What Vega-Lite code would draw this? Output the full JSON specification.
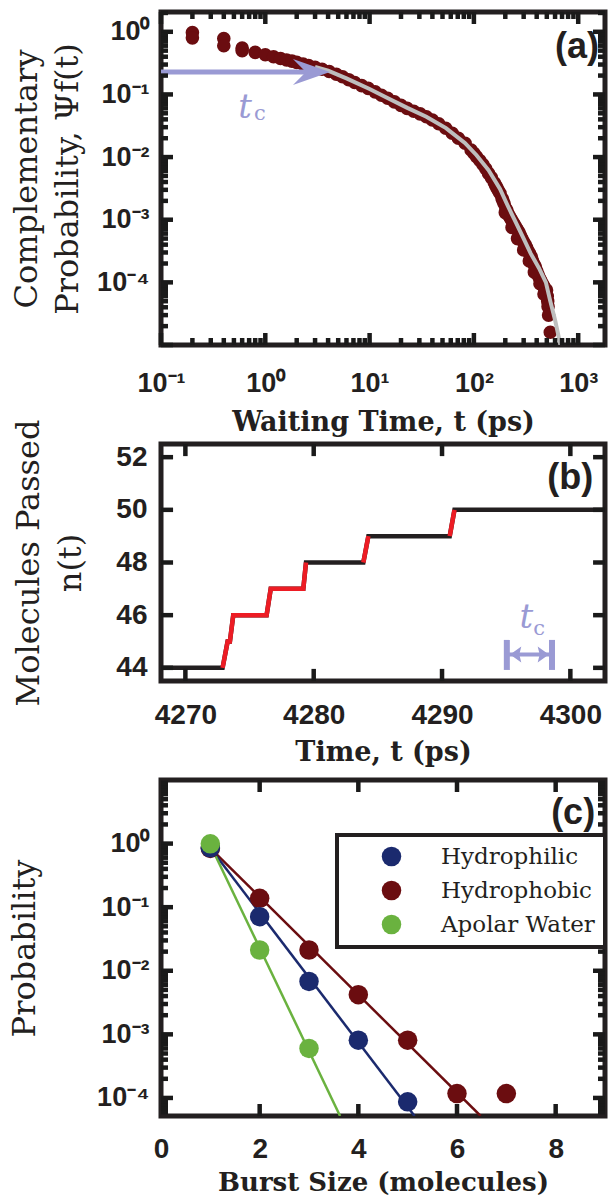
{
  "$schema": "https://vega.github.io/schema/vega-lite/v6.json",
  "background": "white",
  "autosize": {"type": "none"},
  "padding": {"left": 161, "top": 12, "right": 447, "bottom": 1187},
  "spacing": 99,
  "bounds": "flush",
  "config": {
    "view": {"stroke": "#231f20", "strokeWidth": 5},
    "axis": {"grid": false, "domain": false, "labelFont": "Liberation Sans", "labelFontWeight": "bold", "labelColor": "#231f20", "titleFont": "DejaVu Serif", "titleColor": "#231f20", "labelFlush": false, "labelOverlap": false, "labelBound": false},
    "legend": {"strokeWidth": 4},
    "rule": {"color": "#1a1a1a", "strokeWidth": 4.5}
  },
  "datasets": {
    "ticksAX": [{"v":0.1,"major":true},{"v":0.2,"major":false},{"v":0.3,"major":false},{"v":0.4,"major":false},{"v":0.5,"major":false},{"v":0.6,"major":false},{"v":0.7,"major":false},{"v":0.8,"major":false},{"v":0.9,"major":false},{"v":1,"major":true},{"v":2,"major":false},{"v":3,"major":false},{"v":4,"major":false},{"v":5,"major":false},{"v":6,"major":false},{"v":7,"major":false},{"v":8,"major":false},{"v":9,"major":false},{"v":10,"major":true},{"v":20,"major":false},{"v":30,"major":false},{"v":40,"major":false},{"v":50,"major":false},{"v":60,"major":false},{"v":70,"major":false},{"v":80,"major":false},{"v":90,"major":false},{"v":100,"major":true},{"v":200,"major":false},{"v":300,"major":false},{"v":400,"major":false},{"v":500,"major":false},{"v":600,"major":false},{"v":700,"major":false},{"v":800,"major":false},{"v":900,"major":false},{"v":1000,"major":true}],
    "ticksAY": [{"v":0.00001,"major":true},{"v":0.00002,"major":false},{"v":0.00003,"major":false},{"v":0.00004,"major":false},{"v":0.00005,"major":false},{"v":0.00006,"major":false},{"v":0.00007,"major":false},{"v":0.00008,"major":false},{"v":0.00009,"major":false},{"v":0.0001,"major":true},{"v":0.0002,"major":false},{"v":0.0003,"major":false},{"v":0.0004,"major":false},{"v":0.0005,"major":false},{"v":0.0006,"major":false},{"v":0.0007,"major":false},{"v":0.0008,"major":false},{"v":0.0009,"major":false},{"v":0.001,"major":true},{"v":0.002,"major":false},{"v":0.003,"major":false},{"v":0.004,"major":false},{"v":0.005,"major":false},{"v":0.006,"major":false},{"v":0.007,"major":false},{"v":0.008,"major":false},{"v":0.009,"major":false},{"v":0.01,"major":true},{"v":0.02,"major":false},{"v":0.03,"major":false},{"v":0.04,"major":false},{"v":0.05,"major":false},{"v":0.06,"major":false},{"v":0.07,"major":false},{"v":0.08,"major":false},{"v":0.09,"major":false},{"v":0.1,"major":true},{"v":0.2,"major":false},{"v":0.3,"major":false},{"v":0.4,"major":false},{"v":0.5,"major":false},{"v":0.6,"major":false},{"v":0.7,"major":false},{"v":0.8,"major":false},{"v":0.9,"major":false},{"v":1,"major":true},{"v":2,"major":false}],
    "ticksBX": [{"v":4270},{"v":4280},{"v":4290},{"v":4300}],
    "ticksBY": [{"v":44},{"v":46},{"v":48},{"v":50},{"v":52}],
    "ticksCX": [{"v":2},{"v":4},{"v":6},{"v":8}],
    "ticksCY": [{"v":0.00006,"major":false},{"v":0.00007,"major":false},{"v":0.00008,"major":false},{"v":0.00009,"major":false},{"v":0.0001,"major":true},{"v":0.0002,"major":false},{"v":0.0003,"major":false},{"v":0.0004,"major":false},{"v":0.0005,"major":false},{"v":0.0006,"major":false},{"v":0.0007,"major":false},{"v":0.0008,"major":false},{"v":0.0009,"major":false},{"v":0.001,"major":true},{"v":0.002,"major":false},{"v":0.003,"major":false},{"v":0.004,"major":false},{"v":0.005,"major":false},{"v":0.006,"major":false},{"v":0.007,"major":false},{"v":0.008,"major":false},{"v":0.009,"major":false},{"v":0.01,"major":true},{"v":0.02,"major":false},{"v":0.03,"major":false},{"v":0.04,"major":false},{"v":0.05,"major":false},{"v":0.06,"major":false},{"v":0.07,"major":false},{"v":0.08,"major":false},{"v":0.09,"major":false},{"v":0.1,"major":true},{"v":0.2,"major":false},{"v":0.3,"major":false},{"v":0.4,"major":false},{"v":0.5,"major":false},{"v":0.6,"major":false},{"v":0.7,"major":false},{"v":0.8,"major":false},{"v":0.9,"major":false},{"v":1,"major":true},{"v":2,"major":false},{"v":3,"major":false},{"v":4,"major":false},{"v":5,"major":false},{"v":6,"major":false},{"v":7,"major":false},{"v":8,"major":false},{"v":9,"major":false}]
  },
  "vconcat": [
    {
      "width": 444,
      "height": 333,
      "resolve": {"scale": {"x": "independent", "y": "independent"}, "axis": {"x": "independent", "y": "independent"}},
      "layer": [
        {
          "data": {"values": [
            {"t":0.2,"psi":0.97},{"t":0.2,"psi":0.8},{"t":0.4,"psi":0.78},{"t":0.4,"psi":0.6},{"t":0.6,"psi":0.55},{"t":0.6,"psi":0.5},{"t":0.8,"psi":0.47},{"t":1.0,"psi":0.43},{"t":1.2,"psi":0.40},{"t":1.4,"psi":0.375},{"t":1.6,"psi":0.355},{"t":1.8,"psi":0.34},{"t":2.0,"psi":0.325},{"t":2.3,"psi":0.305},{"t":2.6,"psi":0.29},{"t":3.0,"psi":0.272},{"t":3.5,"psi":0.252},{"t":4.1,"psi":0.232},{"t":4.8,"psi":0.21},{"t":5.5,"psi":0.192},{"t":6.3,"psi":0.172},{"t":7.2,"psi":0.155},{"t":8.4,"psi":0.138},{"t":9.7,"psi":0.125},{"t":11.3,"psi":0.11},{"t":13,"psi":0.097},{"t":14.9,"psi":0.087},{"t":17.3,"psi":0.076},{"t":20,"psi":0.067},{"t":22.9,"psi":0.06},{"t":26.5,"psi":0.054},{"t":30.5,"psi":0.049},{"t":35,"psi":0.044},{"t":40,"psi":0.039},{"t":46,"psi":0.034},{"t":53.7,"psi":0.0288},{"t":62,"psi":0.024},{"t":71,"psi":0.02},{"t":82.4,"psi":0.0166},{"t":94,"psi":0.013},{"t":100,"psi":0.0115},{"t":106,"psi":0.0101},{"t":114,"psi":0.0088},{"t":122,"psi":0.0076},{"t":130,"psi":0.0065},{"t":138,"psi":0.0055},{"t":147,"psi":0.0047},{"t":157,"psi":0.0039},{"t":162,"psi":0.0035},{"t":167,"psi":0.0032},{"t":172,"psi":0.0029},{"t":178,"psi":0.00264},{"t":186,"psi":0.0022},{"t":190,"psi":0.002},{"t":195,"psi":0.0018},{"t":203,"psi":0.0015},{"t":207,"psi":0.0014},{"t":211,"psi":0.00127},{"t":218,"psi":0.00115},{"t":225,"psi":0.00105},{"t":232,"psi":0.00096},{"t":240,"psi":0.00088},{"t":248,"psi":0.0008},{"t":256,"psi":0.00073},{"t":264,"psi":0.00067},{"t":273,"psi":0.00061},{"t":281,"psi":0.00055},{"t":290,"psi":0.00049},{"t":300,"psi":0.00044},{"t":310,"psi":0.0004},{"t":320,"psi":0.00036},{"t":330,"psi":0.00032},{"t":341,"psi":0.00029},{"t":352,"psi":0.00026},{"t":360,"psi":0.000235},{"t":368,"psi":0.00021},{"t":376,"psi":0.000195},{"t":385,"psi":0.00018},{"t":392,"psi":0.000165},{"t":400,"psi":0.00015},{"t":410,"psi":0.000135},{"t":419,"psi":0.000123},{"t":430,"psi":0.000113},{"t":440,"psi":0.000105},{"t":450,"psi":0.000097},{"t":460,"psi":0.00009},{"t":470,"psi":0.000085},{"t":478,"psi":0.00008},{"t":497,"psi":0.000075},{"t":505,"psi":0.00006},{"t":510,"psi":0.00005},{"t":514,"psi":0.000041},{"t":520,"psi":0.00003},{"t":540,"psi":0.000016},
            {"t":200,"psi":0.0013},{"t":232,"psi":0.00075},{"t":262,"psi":0.0005},{"t":300,"psi":0.00033},{"t":340,"psi":0.00022},{"t":380,"psi":0.000145},{"t":430,"psi":0.000095},{"t":470,"psi":0.000065}
          ]},
          "mark": {"type": "point", "filled": true, "size": 185, "opacity": 1, "color": "#6b0d10", "clip": true},
          "encoding": {
            "x": {"field": "t", "type": "quantitative", "scale": {"type": "log", "domain": [0.1, 1807], "nice": false, "zero": false},
              "axis": {"orient": "bottom", "values": [0.1, 1, 10, 100, 1000], "ticks": false, "tickSize": 0, "labelPadding": 46, "labelBaseline": "alphabetic", "labelFontSize": 27,
                "labelExpr": "'10' + replace(replace(replace(replace(replace(replace(replace('' + round(log(datum.value)/LN10), '-', '⁻'), '0', '⁰'), '1', '¹'), '2', '²'), '3', '³'), '4', '⁴'), '5', '⁵')",
                "title": "Waiting Time, t (ps)", "titleFontSize": 27, "titleFontWeight": "bold", "titleY": 85, "titleBaseline": "alphabetic"}},
            "y": {"field": "psi", "type": "quantitative", "scale": {"type": "log", "domain": [0.00001, 2.07], "nice": false},
              "axis": {"orient": "left", "values": [0.0001, 0.001, 0.01, 0.1, 1], "ticks": false, "tickSize": 0, "labelPadding": 12, "labelBaseline": "middle", "labelFontSize": 27,
                "labelExpr": "'10' + replace(replace(replace(replace(replace(replace(replace('' + round(log(datum.value)/LN10), '-', '⁻'), '0', '⁰'), '1', '¹'), '2', '²'), '3', '³'), '4', '⁴'), '5', '⁵')",
                "title": ["Complementary", "Probability, Ψf(t)"], "titleFontSize": 32, "titleFontWeight": "normal", "titleX": -135, "titleLineHeight": 41, "titleBaseline": "middle", "titleAngle": 270}}
          }
        },
        {
          "data": {"values": [
            {"t":3,"psi":0.275},{"t":4,"psi":0.24},{"t":6,"psi":0.18},{"t":10,"psi":0.122},{"t":15,"psi":0.087},{"t":23,"psi":0.061},{"t":35,"psi":0.044},{"t":54,"psi":0.029},{"t":82,"psi":0.0168},{"t":106,"psi":0.0107},{"t":138,"psi":0.0062},{"t":178,"psi":0.0031},{"t":210,"psi":0.0017},{"t":245,"psi":0.001},{"t":300,"psi":0.0005},{"t":350,"psi":0.00029},{"t":420,"psi":0.00017},{"t":490,"psi":0.0001},{"t":537,"psi":0.000052},{"t":600,"psi":0.000025},{"t":670,"psi":0.0000107},{"t":700,"psi":0.0000075}
          ]},
          "mark": {"type": "line", "color": "#bebebe", "strokeWidth": 4, "clip": true},
          "encoding": {
            "x": {"field": "t", "type": "quantitative", "scale": {"type": "log", "domain": [0.1, 1807], "nice": false, "zero": false}, "axis": null},
            "y": {"field": "psi", "type": "quantitative", "scale": {"type": "log", "domain": [0.00001, 2.07], "nice": false}, "axis": null}
          }
        },
        {
          "data": {"values": [{"x": 0.1, "x2": 2.77, "y": 0.228}]},
          "mark": {"type": "rule", "color": "#9a9ad4", "strokeWidth": 5},
          "encoding": {
            "x": {"field": "x", "type": "quantitative", "scale": {"type": "log", "domain": [0.1, 1807], "nice": false, "zero": false}, "axis": null},
            "x2": {"field": "x2"},
            "y": {"field": "y", "type": "quantitative", "scale": {"type": "log", "domain": [0.00001, 2.07], "nice": false}, "axis": null}
          }
        },
        {
          "data": {"values": [{"x": 2.77, "y": 0.228}]},
          "mark": {"type": "point", "shape": "M1,0L-1,-0.7L-0.3,0L-1,0.7Z", "size": 1369, "filled": true, "opacity": 1, "color": "#9a9ad4"},
          "encoding": {
            "x": {"field": "x", "type": "quantitative", "scale": {"type": "log", "domain": [0.1, 1807], "nice": false, "zero": false}, "axis": null},
            "y": {"field": "y", "type": "quantitative", "scale": {"type": "log", "domain": [0.00001, 2.07], "nice": false}, "axis": null}
          }
        },
        {
          "data": {"values": [{"x": 0.639, "y": 0.0421, "label": "t"}]},
          "mark": {"type": "text", "font": "DejaVu Serif", "fontStyle": "italic", "fontSize": 34, "color": "#9a9ad4", "align": "center", "baseline": "alphabetic"},
          "encoding": {
            "x": {"field": "x", "type": "quantitative", "scale": {"type": "log", "domain": [0.1, 1807], "nice": false, "zero": false}, "axis": null},
            "y": {"field": "y", "type": "quantitative", "scale": {"type": "log", "domain": [0.00001, 2.07], "nice": false}, "axis": null},
            "text": {"field": "label"}
          }
        },
        {
          "data": {"values": [{"x": 0.779, "y": 0.039, "label": "c"}]},
          "mark": {"type": "text", "font": "DejaVu Serif", "fontSize": 21, "color": "#9a9ad4", "align": "left", "baseline": "alphabetic"},
          "encoding": {
            "x": {"field": "x", "type": "quantitative", "scale": {"type": "log", "domain": [0.1, 1807], "nice": false, "zero": false}, "axis": null},
            "y": {"field": "y", "type": "quantitative", "scale": {"type": "log", "domain": [0.00001, 2.07], "nice": false}, "axis": null},
            "text": {"field": "label"}
          }
        },
        {
          "data": {"values": [{"x": 1581, "y": 0.571, "label": "(a)"}]},
          "mark": {"type": "text", "font": "Liberation Sans", "fontWeight": "bold", "fontSize": 36, "color": "#231f20", "align": "right", "baseline": "middle"},
          "encoding": {
            "x": {"field": "x", "type": "quantitative", "scale": {"type": "log", "domain": [0.1, 1807], "nice": false, "zero": false}, "axis": null},
            "y": {"field": "y", "type": "quantitative", "scale": {"type": "log", "domain": [0.00001, 2.07], "nice": false}, "axis": null},
            "text": {"field": "label"}
          }
        },
        {
          "data": {"name": "ticksAX"}, "transform": [{"filter": "datum.major"}],
          "mark": {"type": "rule"},
          "encoding": {
            "x": {"field": "v", "type": "quantitative", "scale": {"type": "log", "domain": [0.1, 1807], "nice": false, "zero": false}, "axis": null},
            "y": {"datum": 0.00001, "type": "quantitative", "scale": {"type": "log", "domain": [0.00001, 2.07], "nice": false}, "axis": null},
            "y2": {"datum": 0.00001554}
          }
        },
        {
          "data": {"name": "ticksAX"}, "transform": [{"filter": "!datum.major"}],
          "mark": {"type": "rule"},
          "encoding": {
            "x": {"field": "v", "type": "quantitative", "scale": {"type": "log", "domain": [0.1, 1807], "nice": false, "zero": false}, "axis": null},
            "y": {"datum": 0.00001, "type": "quantitative", "scale": {"type": "log", "domain": [0.00001, 2.07], "nice": false}, "axis": null},
            "y2": {"datum": 0.00001293}
          }
        },
        {
          "data": {"name": "ticksAX"}, "transform": [{"filter": "datum.major"}],
          "mark": {"type": "rule"},
          "encoding": {
            "x": {"field": "v", "type": "quantitative", "scale": {"type": "log", "domain": [0.1, 1807], "nice": false, "zero": false}, "axis": null},
            "y": {"datum": 2.07, "type": "quantitative", "scale": {"type": "log", "domain": [0.00001, 2.07], "nice": false}, "axis": null},
            "y2": {"datum": 1.332}
          }
        },
        {
          "data": {"name": "ticksAX"}, "transform": [{"filter": "!datum.major"}],
          "mark": {"type": "rule"},
          "encoding": {
            "x": {"field": "v", "type": "quantitative", "scale": {"type": "log", "domain": [0.1, 1807], "nice": false, "zero": false}, "axis": null},
            "y": {"datum": 2.07, "type": "quantitative", "scale": {"type": "log", "domain": [0.00001, 2.07], "nice": false}, "axis": null},
            "y2": {"datum": 1.601}
          }
        },
        {
          "data": {"name": "ticksAY"}, "transform": [{"filter": "datum.major"}],
          "mark": {"type": "rule"},
          "encoding": {
            "y": {"field": "v", "type": "quantitative", "scale": {"type": "log", "domain": [0.00001, 2.07], "nice": false}, "axis": null},
            "x": {"datum": 0.1, "type": "quantitative", "scale": {"type": "log", "domain": [0.1, 1807], "nice": false, "zero": false}, "axis": null},
            "x2": {"datum": 0.1303}
          }
        },
        {
          "data": {"name": "ticksAY"}, "transform": [{"filter": "!datum.major"}],
          "mark": {"type": "rule"},
          "encoding": {
            "y": {"field": "v", "type": "quantitative", "scale": {"type": "log", "domain": [0.00001, 2.07], "nice": false}, "axis": null},
            "x": {"datum": 0.1, "type": "quantitative", "scale": {"type": "log", "domain": [0.1, 1807], "nice": false, "zero": false}, "axis": null},
            "x2": {"datum": 0.1167}
          }
        },
        {
          "data": {"name": "ticksAY"}, "transform": [{"filter": "datum.major"}],
          "mark": {"type": "rule"},
          "encoding": {
            "y": {"field": "v", "type": "quantitative", "scale": {"type": "log", "domain": [0.00001, 2.07], "nice": false}, "axis": null},
            "x": {"datum": 1807, "type": "quantitative", "scale": {"type": "log", "domain": [0.1, 1807], "nice": false, "zero": false}, "axis": null},
            "x2": {"datum": 1387}
          }
        },
        {
          "data": {"name": "ticksAY"}, "transform": [{"filter": "!datum.major"}],
          "mark": {"type": "rule"},
          "encoding": {
            "y": {"field": "v", "type": "quantitative", "scale": {"type": "log", "domain": [0.00001, 2.07], "nice": false}, "axis": null},
            "x": {"datum": 1807, "type": "quantitative", "scale": {"type": "log", "domain": [0.1, 1807], "nice": false, "zero": false}, "axis": null},
            "x2": {"datum": 1548}
          }
        }
      ]
    },
    {
      "width": 444,
      "height": 237,
      "resolve": {"scale": {"x": "independent", "y": "independent"}, "axis": {"x": "independent", "y": "independent"}},
      "layer": [
        {
          "data": {"values": [
            {"t":4268.1,"n":44},{"t":4272.9,"n":44},{"t":4273.29,"n":45},{"t":4273.47,"n":45},{"t":4273.73,"n":46},{"t":4276.33,"n":46},{"t":4276.65,"n":47},{"t":4279.19,"n":47},{"t":4279.4,"n":48},{"t":4283.87,"n":48},{"t":4284.26,"n":49},{"t":4290.6,"n":49},{"t":4290.97,"n":50},{"t":4302.7,"n":50}
          ]},
          "mark": {"type": "line", "color": "#231f20", "strokeWidth": 4.5, "clip": true},
          "encoding": {
            "x": {"field": "t", "type": "quantitative", "scale": {"domain": [4268.1, 4302.7], "nice": false, "zero": false},
              "axis": {"orient": "bottom", "values": [4270, 4280, 4290, 4300], "format": "d", "ticks": false, "tickSize": 0, "labelPadding": 42, "labelBaseline": "alphabetic", "labelFontSize": 28,
                "title": "Time, t (ps)", "titleFontSize": 27, "titleFontWeight": "bold", "titleY": 79, "titleBaseline": "alphabetic"}},
            "y": {"field": "n", "type": "quantitative", "scale": {"domain": [43.5, 52.5], "nice": false, "zero": false},
              "axis": {"orient": "left", "values": [44, 46, 48, 50, 52], "ticks": false, "tickSize": 0, "labelPadding": 14, "labelBaseline": "middle", "labelFontSize": 28,
                "title": ["Molecules Passed", "n(t)"], "titleFontSize": 32, "titleFontWeight": "normal", "titleX": -133, "titleLineHeight": 42, "titleBaseline": "middle", "titleAngle": 270}}
          }
        },
        {
          "data": {"values": [
            {"seg":1,"t":4272.9,"n":44},{"seg":1,"t":4273.29,"n":45},{"seg":1,"t":4273.47,"n":45},{"seg":1,"t":4273.73,"n":46},{"seg":1,"t":4276.33,"n":46},{"seg":1,"t":4276.65,"n":47},{"seg":1,"t":4279.19,"n":47},{"seg":1,"t":4279.4,"n":48},
            {"seg":2,"t":4283.87,"n":48},{"seg":2,"t":4284.26,"n":49},
            {"seg":3,"t":4290.6,"n":49},{"seg":3,"t":4290.97,"n":50}
          ]},
          "mark": {"type": "line", "color": "#ed1c24", "strokeWidth": 4.5, "clip": true},
          "encoding": {
            "x": {"field": "t", "type": "quantitative", "scale": {"domain": [4268.1, 4302.7], "nice": false, "zero": false}, "axis": null},
            "y": {"field": "n", "type": "quantitative", "scale": {"domain": [43.5, 52.5], "nice": false, "zero": false}, "axis": null},
            "detail": {"field": "seg", "type": "nominal"}
          }
        },
        {
          "data": {"values": [{"x": 4295.05, "y": 45.06, "y2": 43.92}, {"x": 4298.57, "y": 45.06, "y2": 43.92}]},
          "mark": {"type": "rule", "color": "#9a9ad4", "strokeWidth": 6},
          "encoding": {
            "x": {"field": "x", "type": "quantitative", "scale": {"domain": [4268.1, 4302.7], "nice": false, "zero": false}, "axis": null},
            "y": {"field": "y", "type": "quantitative", "scale": {"domain": [43.5, 52.5], "nice": false, "zero": false}, "axis": null},
            "y2": {"field": "y2"}
          }
        },
        {
          "data": {"values": [{"x": 4295.05, "x2": 4298.57, "y": 44.51}]},
          "mark": {"type": "rule", "color": "#9a9ad4", "strokeWidth": 4},
          "encoding": {
            "x": {"field": "x", "type": "quantitative", "scale": {"domain": [4268.1, 4302.7], "nice": false, "zero": false}, "axis": null},
            "x2": {"field": "x2"},
            "y": {"field": "y", "type": "quantitative", "scale": {"domain": [43.5, 52.5], "nice": false, "zero": false}, "axis": null}
          }
        },
        {
          "data": {"values": [{"x": 4295.74, "y": 44.51}]},
          "mark": {"type": "point", "shape": "M-0.7,0L0.7,-1L0.45,0L0.7,1Z", "size": 256, "filled": true, "opacity": 1, "color": "#9a9ad4"},
          "encoding": {
            "x": {"field": "x", "type": "quantitative", "scale": {"domain": [4268.1, 4302.7], "nice": false, "zero": false}, "axis": null},
            "y": {"field": "y", "type": "quantitative", "scale": {"domain": [43.5, 52.5], "nice": false, "zero": false}, "axis": null}
          }
        },
        {
          "data": {"values": [{"x": 4297.89, "y": 44.51}]},
          "mark": {"type": "point", "shape": "M0.7,0L-0.7,-1L-0.45,0L-0.7,1Z", "size": 256, "filled": true, "opacity": 1, "color": "#9a9ad4"},
          "encoding": {
            "x": {"field": "x", "type": "quantitative", "scale": {"domain": [4268.1, 4302.7], "nice": false, "zero": false}, "axis": null},
            "y": {"field": "y", "type": "quantitative", "scale": {"domain": [43.5, 52.5], "nice": false, "zero": false}, "axis": null}
          }
        },
        {
          "data": {"values": [{"x": 4296.56, "y": 45.51, "label": "t"}]},
          "mark": {"type": "text", "font": "DejaVu Serif", "fontStyle": "italic", "fontSize": 34, "color": "#9a9ad4", "align": "center", "baseline": "alphabetic"},
          "encoding": {
            "x": {"field": "x", "type": "quantitative", "scale": {"domain": [4268.1, 4302.7], "nice": false, "zero": false}, "axis": null},
            "y": {"field": "y", "type": "quantitative", "scale": {"domain": [43.5, 52.5], "nice": false, "zero": false}, "axis": null},
            "text": {"field": "label"}
          }
        },
        {
          "data": {"values": [{"x": 4297.11, "y": 45.25, "label": "c"}]},
          "mark": {"type": "text", "font": "DejaVu Serif", "fontSize": 21, "color": "#9a9ad4", "align": "left", "baseline": "alphabetic"},
          "encoding": {
            "x": {"field": "x", "type": "quantitative", "scale": {"domain": [4268.1, 4302.7], "nice": false, "zero": false}, "axis": null},
            "y": {"field": "y", "type": "quantitative", "scale": {"domain": [43.5, 52.5], "nice": false, "zero": false}, "axis": null},
            "text": {"field": "label"}
          }
        },
        {
          "data": {"values": [{"x": 4301.79, "y": 51.21, "label": "(b)"}]},
          "mark": {"type": "text", "font": "Liberation Sans", "fontWeight": "bold", "fontSize": 36, "color": "#231f20", "align": "right", "baseline": "middle"},
          "encoding": {
            "x": {"field": "x", "type": "quantitative", "scale": {"domain": [4268.1, 4302.7], "nice": false, "zero": false}, "axis": null},
            "y": {"field": "y", "type": "quantitative", "scale": {"domain": [43.5, 52.5], "nice": false, "zero": false}, "axis": null},
            "text": {"field": "label"}
          }
        },
        {
          "data": {"name": "ticksBX"},
          "mark": {"type": "rule"},
          "encoding": {
            "x": {"field": "v", "type": "quantitative", "scale": {"domain": [4268.1, 4302.7], "nice": false, "zero": false}, "axis": null},
            "y": {"datum": 43.5, "type": "quantitative", "scale": {"domain": [43.5, 52.5], "nice": false, "zero": false}, "axis": null},
            "y2": {"datum": 43.96}
          }
        },
        {
          "data": {"name": "ticksBX"},
          "mark": {"type": "rule"},
          "encoding": {
            "x": {"field": "v", "type": "quantitative", "scale": {"domain": [4268.1, 4302.7], "nice": false, "zero": false}, "axis": null},
            "y": {"datum": 52.5, "type": "quantitative", "scale": {"domain": [43.5, 52.5], "nice": false, "zero": false}, "axis": null},
            "y2": {"datum": 52.04}
          }
        },
        {
          "data": {"name": "ticksBY"},
          "mark": {"type": "rule"},
          "encoding": {
            "y": {"field": "v", "type": "quantitative", "scale": {"domain": [43.5, 52.5], "nice": false, "zero": false}, "axis": null},
            "x": {"datum": 4268.1, "type": "quantitative", "scale": {"domain": [4268.1, 4302.7], "nice": false, "zero": false}, "axis": null},
            "x2": {"datum": 4269.04}
          }
        },
        {
          "data": {"name": "ticksBY"},
          "mark": {"type": "rule"},
          "encoding": {
            "y": {"field": "v", "type": "quantitative", "scale": {"domain": [43.5, 52.5], "nice": false, "zero": false}, "axis": null},
            "x": {"datum": 4302.7, "type": "quantitative", "scale": {"domain": [4268.1, 4302.7], "nice": false, "zero": false}, "axis": null},
            "x2": {"datum": 4301.77}
          }
        }
      ]
    },
    {
      "width": 444,
      "height": 336,
      "resolve": {"scale": {"x": "independent", "y": "independent"}, "axis": {"x": "independent", "y": "independent"}},
      "layer": [
        {
          "data": {"values": [
            {"series":"Hydrophobic","x":1,"p":0.85},{"series":"Hydrophobic","x":6.48,"p":0.000052}
          ]},
          "mark": {"type": "line", "strokeWidth": 2.5, "color": "#6b0d10", "clip": true},
          "encoding": {
            "x": {"field": "x", "type": "quantitative", "scale": {"domain": [0, 9], "nice": false, "zero": false},
              "axis": {"orient": "bottom", "values": [0, 2, 4, 6, 8], "ticks": false, "tickSize": 0, "labelPadding": 41, "labelBaseline": "alphabetic", "labelFontSize": 28,
                "title": "Burst Size (molecules)", "titleFontSize": 26, "titleFontWeight": "bold", "titleY": 74, "titleBaseline": "alphabetic"}},
            "y": {"field": "p", "type": "quantitative", "scale": {"type": "log", "domain": [0.000052, 10], "nice": false},
              "axis": {"orient": "left", "values": [0.0001, 0.001, 0.01, 0.1, 1], "ticks": false, "tickSize": 0, "labelPadding": 12, "labelBaseline": "middle", "labelFontSize": 27,
                "labelExpr": "'10' + replace(replace(replace(replace(replace(replace(replace('' + round(log(datum.value)/LN10), '-', '⁻'), '0', '⁰'), '1', '¹'), '2', '²'), '3', '³'), '4', '⁴'), '5', '⁵')",
                "title": "Probability", "titleFontSize": 32, "titleFontWeight": "normal", "titleX": -137, "titleBaseline": "middle", "titleAngle": 270}}
          }
        },
        {
          "data": {"values": [
            {"series":"Hydrophilic","x":1,"p":0.85},{"series":"Hydrophilic","x":5.14,"p":0.000052}
          ]},
          "mark": {"type": "line", "strokeWidth": 2.5, "color": "#1b2a6e", "clip": true},
          "encoding": {
            "x": {"field": "x", "type": "quantitative", "scale": {"domain": [0, 9], "nice": false, "zero": false}, "axis": null},
            "y": {"field": "p", "type": "quantitative", "scale": {"type": "log", "domain": [0.000052, 10], "nice": false}, "axis": null}
          }
        },
        {
          "data": {"values": [
            {"series":"Apolar Water","x":1,"p":0.95},{"series":"Apolar Water","x":3.63,"p":0.000052}
          ]},
          "mark": {"type": "line", "strokeWidth": 2.5, "color": "#6ab23f", "clip": true},
          "encoding": {
            "x": {"field": "x", "type": "quantitative", "scale": {"domain": [0, 9], "nice": false, "zero": false}, "axis": null},
            "y": {"field": "p", "type": "quantitative", "scale": {"type": "log", "domain": [0.000052, 10], "nice": false}, "axis": null}
          }
        },
        {
          "data": {"values": [
            {"series":"Hydrophobic","x":1,"p":0.84},{"series":"Hydrophobic","x":2,"p":0.138},{"series":"Hydrophobic","x":3,"p":0.0212},{"series":"Hydrophobic","x":4,"p":0.0042},{"series":"Hydrophobic","x":5,"p":0.00081},{"series":"Hydrophobic","x":6,"p":0.000117},{"series":"Hydrophobic","x":7,"p":0.000117},
            {"series":"Hydrophilic","x":1,"p":0.86},{"series":"Hydrophilic","x":2,"p":0.071},{"series":"Hydrophilic","x":3,"p":0.0068},{"series":"Hydrophilic","x":4,"p":0.00081},{"series":"Hydrophilic","x":5,"p":0.000087},
            {"series":"Apolar Water","x":1,"p":0.99},{"series":"Apolar Water","x":2,"p":0.0212},{"series":"Apolar Water","x":3,"p":0.0006}
          ]},
          "mark": {"type": "point", "filled": true, "size": 380, "opacity": 1},
          "encoding": {
            "x": {"field": "x", "type": "quantitative", "scale": {"domain": [0, 9], "nice": false, "zero": false}, "axis": null},
            "y": {"field": "p", "type": "quantitative", "scale": {"type": "log", "domain": [0.000052, 10], "nice": false}, "axis": null},
            "color": {"field": "series", "type": "nominal", "scale": {"domain": ["Hydrophilic", "Hydrophobic", "Apolar Water"], "range": ["#1b2a6e", "#6b0d10", "#6ab23f"]},
              "legend": {"orient": "none", "legendX": 176, "legendY": 823, "title": null, "strokeColor": "#231f20", "fillColor": "white", "padding": 10, "symbolOffset": 33, "labelOffset": 38, "rowPadding": 10, "symbolSize": 380, "symbolType": "circle", "symbolStrokeWidth": 0, "labelFont": "DejaVu Serif", "labelFontSize": 23, "labelColor": "#231f20", "labelLimit": 300}}
          }
        },
        {
          "data": {"values": [{"x": 8.8, "y": 3.03, "label": "(c)"}]},
          "mark": {"type": "text", "font": "Liberation Sans", "fontWeight": "bold", "fontSize": 36, "color": "#231f20", "align": "right", "baseline": "middle"},
          "encoding": {
            "x": {"field": "x", "type": "quantitative", "scale": {"domain": [0, 9], "nice": false, "zero": false}, "axis": null},
            "y": {"field": "y", "type": "quantitative", "scale": {"type": "log", "domain": [0.000052, 10], "nice": false}, "axis": null},
            "text": {"field": "label"}
          }
        },
        {
          "data": {"name": "ticksCX"},
          "mark": {"type": "rule"},
          "encoding": {
            "x": {"field": "v", "type": "quantitative", "scale": {"domain": [0, 9], "nice": false, "zero": false}, "axis": null},
            "y": {"datum": 0.000052, "type": "quantitative", "scale": {"type": "log", "domain": [0.000052, 10], "nice": false}, "axis": null},
            "y2": {"datum": 0.0000803}
          }
        },
        {
          "data": {"name": "ticksCX"},
          "mark": {"type": "rule"},
          "encoding": {
            "x": {"field": "v", "type": "quantitative", "scale": {"domain": [0, 9], "nice": false, "zero": false}, "axis": null},
            "y": {"datum": 10, "type": "quantitative", "scale": {"type": "log", "domain": [0.000052, 10], "nice": false}, "axis": null},
            "y2": {"datum": 6.48}
          }
        },
        {
          "data": {"name": "ticksCY"}, "transform": [{"filter": "datum.major"}],
          "mark": {"type": "rule"},
          "encoding": {
            "y": {"field": "v", "type": "quantitative", "scale": {"type": "log", "domain": [0.000052, 10], "nice": false}, "axis": null},
            "x": {"datum": 0, "type": "quantitative", "scale": {"domain": [0, 9], "nice": false, "zero": false}, "axis": null},
            "x2": {"datum": 0.243}
          }
        },
        {
          "data": {"name": "ticksCY"}, "transform": [{"filter": "!datum.major"}],
          "mark": {"type": "rule"},
          "encoding": {
            "y": {"field": "v", "type": "quantitative", "scale": {"type": "log", "domain": [0.000052, 10], "nice": false}, "axis": null},
            "x": {"datum": 0, "type": "quantitative", "scale": {"domain": [0, 9], "nice": false, "zero": false}, "axis": null},
            "x2": {"datum": 0.142}
          }
        },
        {
          "data": {"name": "ticksCY"}, "transform": [{"filter": "datum.major"}],
          "mark": {"type": "rule"},
          "encoding": {
            "y": {"field": "v", "type": "quantitative", "scale": {"type": "log", "domain": [0.000052, 10], "nice": false}, "axis": null},
            "x": {"datum": 9, "type": "quantitative", "scale": {"domain": [0, 9], "nice": false, "zero": false}, "axis": null},
            "x2": {"datum": 8.757}
          }
        },
        {
          "data": {"name": "ticksCY"}, "transform": [{"filter": "!datum.major"}],
          "mark": {"type": "rule"},
          "encoding": {
            "y": {"field": "v", "type": "quantitative", "scale": {"type": "log", "domain": [0.000052, 10], "nice": false}, "axis": null},
            "x": {"datum": 9, "type": "quantitative", "scale": {"domain": [0, 9], "nice": false, "zero": false}, "axis": null},
            "x2": {"datum": 8.858}
          }
        }
      ]
    }
  ]
}
